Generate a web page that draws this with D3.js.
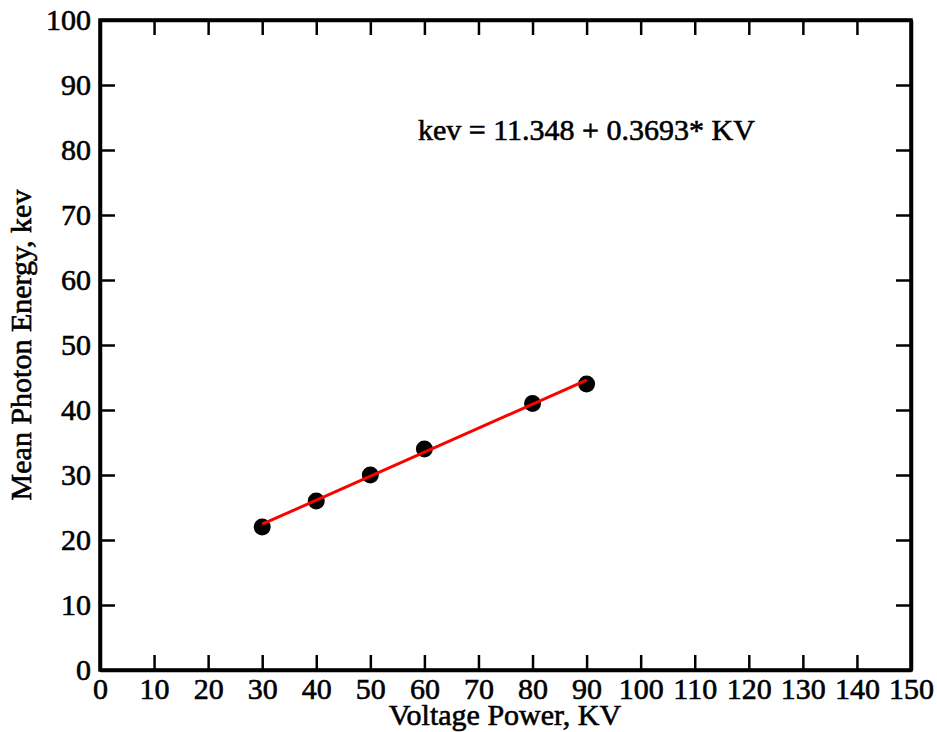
<!DOCTYPE html>
<html>
<head>
<meta charset="utf-8">
<script src="https://cdn.jsdelivr.net/npm/d3@7"></script>
<style>
  body { margin: 0; background: #fff; }
  text { font-family: "Liberation Serif", "Times New Roman", serif; fill: #000; stroke: #000; stroke-width: 0.6px; }
</style>
</head>
<body>
<div id="chart"></div>
<script>
(function () {

    var width = 937;
    var height = 732;

    // data
    var voltage = [30, 40, 50, 60, 80, 90];
    var energy = [22, 26, 30, 34, 41, 44];
    var fitIntercept = 11.348;
    var fitSlope = 0.3693;
    var xTicks = d3.range(0, 151, 10);
    var yTicks = d3.range(0, 101, 10);

    var margin = { left: 100, right: 26, top: 20, bottom: 62 };

    var svg = d3.select("#chart")
        .append("svg")
        .attr("width", width)
        .attr("height", height)

    var x = d3.scaleLinear().domain([0, 150]).range([margin.left, width - margin.right])
    var y = d3.scaleLinear().domain([0, 100]).range([height - margin.bottom, margin.top])

    var tickLen = 15;

    // inward ticks on all four sides
    svg.append("g")
        .attr("transform", "translate(0," + y(0) + ")")
        .call(d3.axisBottom(x).tickValues(xTicks).tickSizeInner(-tickLen).tickSizeOuter(0).tickPadding(8))
        .call(styleAxis)
    svg.append("g")
        .attr("transform", "translate(0," + y(100) + ")")
        .call(d3.axisTop(x).tickValues(xTicks).tickSizeInner(-tickLen).tickSizeOuter(0).tickFormat(""))
        .call(styleAxis)
    svg.append("g")
        .attr("transform", "translate(" + x(0) + ",0)")
        .call(d3.axisLeft(y).tickValues(yTicks).tickSizeInner(-tickLen).tickSizeOuter(0).tickPadding(9))
        .call(styleAxis)
    svg.append("g")
        .attr("transform", "translate(" + x(150) + ",0)")
        .call(d3.axisRight(y).tickValues(yTicks).tickSizeInner(-tickLen).tickSizeOuter(0).tickFormat(""))
        .call(styleAxis)

    function styleAxis(g) {
        g.select(".domain").attr("stroke", "#000").attr("stroke-width", 3.5)
        g.selectAll(".tick line").attr("stroke", "#000").attr("stroke-width", 2.5)
        g.selectAll(".tick text")
            .attr("font-size", 30)
            .attr("font-family", "Liberation Serif")
            .attr("fill", "#000")
    }

    // frame
    svg.append("rect")
        .attr("x", x(0))
        .attr("y", y(100))
        .attr("width", x(150) - x(0))
        .attr("height", y(0) - y(100))
        .attr("fill", "none")
        .attr("stroke", "#000")
        .attr("stroke-width", 3.5)

    var fitX = d3.extent(voltage);

    svg.selectAll(".pt")
        .data(voltage)
        .enter().append("circle")
        .attr("class", "pt")
        .attr("cx", function (d) { return x(d) })
        .attr("cy", function (d, i) { return y(energy[i]) })
        .attr("r", 8.5)
        .attr("fill", "#000")

    // fit line, drawn over the dots like the original
    svg.append("line")
        .attr("x1", x(fitX[0]))
        .attr("y1", y(fitIntercept + fitSlope * fitX[0]))
        .attr("x2", x(fitX[1]))
        .attr("y2", y(fitIntercept + fitSlope * fitX[1]))
        .attr("stroke", "#ff0000")
        .attr("stroke-width", 3)

    svg.append("text")
        .attr("x", 418)
        .attr("y", 140)
        .attr("font-size", 30)
        .text("kev = " + fitIntercept + " + " + fitSlope + "* KV")

    svg.append("text")
        .attr("x", 505)
        .attr("y", 725)
        .attr("text-anchor", "middle")
        .attr("font-size", 30)
        .text("Voltage Power, KV")

    svg.append("text")
        .attr("transform", "translate(31," + (y(0) + y(100)) / 2 + ") rotate(-90)")
        .attr("text-anchor", "middle")
        .attr("font-size", 30)
        .text("Mean Photon Energy, kev")

})();
</script>
</body>
</html>
